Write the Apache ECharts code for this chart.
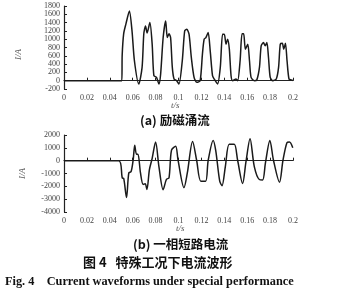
<!DOCTYPE html>
<html><head><meta charset="utf-8">
<script src="https://cdn.jsdelivr.net/npm/echarts@6/dist/echarts.min.js"></script>
<style>html,body{margin:0;padding:0;background:#fff}#c{width:345px;height:295px}</style>
</head><body><div id="c"></div>
<script>
// (a) inrush current: time (s), current (A)
const tA = [0,0.0505,0.0508,0.0521,0.0541,0.0571,0.0594,0.0615,0.0653,0.0682,0.0697,0.0712,0.0726,0.0750,0.0770,0.0785,0.0808,0.0829,0.0844,0.0866,0.0888,0.0902,0.0917,0.0931,0.0946,0.0961,0.0984,0.1004,0.1033,0.1054,0.1072,0.1092,0.1112,0.1136,0.1160,0.1189,0.1209,0.1224,0.1239,0.1259,0.1277,0.1297,0.1312,0.1341,0.1365,0.1385,0.1400,0.1415,0.1429,0.1444,0.1459,0.1473,0.1503,0.1517,0.1538,0.1555,0.1569,0.1584,0.1605,0.1620,0.1634,0.1663,0.1684,0.1707,0.1722,0.1742,0.1757,0.1772,0.1786,0.1801,0.1824,0.1854,0.1874,0.1889,0.1907,0.1919,0.1934,0.1948,0.1965,0.1986,0.2];
const iA = [0,0,600,1130,1370,1680,1200,480,-80,320,1130,1320,1150,1400,880,120,80,-80,160,1040,1440,1040,1130,1040,320,40,0,-80,480,1200,1240,1120,560,80,-40,0,640,1000,1040,1160,720,120,40,-80,320,1120,1120,880,1000,760,120,0,40,0,480,1130,1130,760,880,480,80,0,20,320,840,920,840,920,560,80,0,40,320,880,900,760,900,480,40,20,0];
// (b) single-phase short-circuit current
const tB = [0,0.0478,0.0509,0.0522,0.0546,0.0566,0.0586,0.0604,0.0618,0.0633,0.0646,0.0668,0.0691,0.0709,0.0724,0.0746,0.0770,0.0800,0.0829,0.0866,0.0895,0.0917,0.0939,0.0975,0.0996,0.1048,0.1077,0.1123,0.1158,0.1195,0.1237,0.1259,0.1303,0.1325,0.1360,0.1380,0.1409,0.1443,0.1487,0.1516,0.1560,0.1589,0.1625,0.1662,0.1706,0.1735,0.1759,0.1798,0.1829,0.1882,0.1912,0.1947,0.1969,0.1998];
const iB = [0,0,-1350,-1400,-2870,-960,-850,50,1200,500,500,-960,-1850,-1800,-2240,-700,180,1450,-460,-2260,-1450,-1340,820,1120,50,-2100,-960,1500,50,-1600,-1600,0,1580,800,-1600,-1950,-460,1270,1270,50,-1780,-100,1710,-460,-1470,-1500,-200,1580,50,-1680,0,1400,1450,1000];
const xTicks = {min:0, max:0.2, interval:0.02};
const yA = {min:-200, max:1800, interval:200};
const yB = {min:-4000, max:2000, interval:1000};

const lab = {fontFamily:'Liberation Serif', fontSize:8, lineHeight:7, color:'#444', showMinLabel:true, showMaxLabel:true, hideOverlap:false};
function xAxis(gi){return {type:'value', gridIndex:gi, min:xTicks.min, max:xTicks.max, interval:xTicks.interval,
  axisLine:{lineStyle:{color:'#222',width:1.2}}, axisTick:{inside:true,length:3,lineStyle:{color:'#222'}},
  splitLine:{show:false}, axisLabel:Object.assign({margin:5, formatter:v=>String(Math.round(v*100)/100)},lab)};}
function yAxis(gi,r){return {type:'value', gridIndex:gi, min:r.min, max:r.max, interval:r.interval,
  axisLine:{show:true,onZero:false,lineStyle:{color:'#222',width:1.2}}, axisTick:{show:true,inside:true,length:3,lineStyle:{color:'#222'}},
  splitLine:{show:false}, axisLabel:Object.assign({margin:4, formatter:v=>String(v)},lab)};}
const chart = echarts.init(document.getElementById('c'), null, {renderer:'canvas'});
chart.setOption({
  animation:false,
  grid:[{left:64, right:52, top:6, height:83},{left:64, right:52, top:135, height:77}],
  xAxis:[xAxis(0), xAxis(1)],
  yAxis:[yAxis(0,yA), yAxis(1,yB)],
  series:[
    {type:'line', xAxisIndex:0, yAxisIndex:0, data:tA.map((t,i)=>[t,iA[i]]), showSymbol:false, smooth:0.25,
     lineStyle:{color:'#1a1a1a',width:1.5}},
    {type:'line', xAxisIndex:1, yAxisIndex:1, data:tB.map((t,i)=>[t,iB[i]]), showSymbol:false, smooth:0.3,
     lineStyle:{color:'#1a1a1a',width:1.5}}
  ],
  graphic:[
    {type:'text', left:14, top:49, rotation:Math.PI/2, style:{text:'I/A', font:'italic 9px Liberation Serif', fill:'#555'}},
    {type:'text', left:18, top:168, rotation:Math.PI/2, style:{text:'I/A', font:'italic 9px Liberation Serif', fill:'#555'}},
    {type:'text', left:171, top:101, style:{text:'t/s', font:'italic 9px Liberation Serif', fill:'#555'}},
    {type:'text', left:176, top:224, style:{text:'t/s', font:'italic 9px Liberation Serif', fill:'#555'}},
    {type:'text', left:140, top:114, style:{text:'(a) 励磁涌流', font:'bold 12.5px "Noto Sans CJK SC"', fill:'#111'}},
    {type:'text', left:133, top:238, style:{text:'(b) 一相短路电流', font:'bold 12.5px "Noto Sans CJK SC"', fill:'#111'}},
    {type:'text', left:83, top:256, style:{text:'图 4   特殊工况下电流波形', font:'bold 13px "Noto Sans CJK SC"', fill:'#111'}},
    {type:'text', left:5, top:276, style:{text:'Fig. 4    Current waveforms under special performance', font:'bold 12.3px Liberation Serif', fill:'#111'}}
  ]
});
</script></body></html>
